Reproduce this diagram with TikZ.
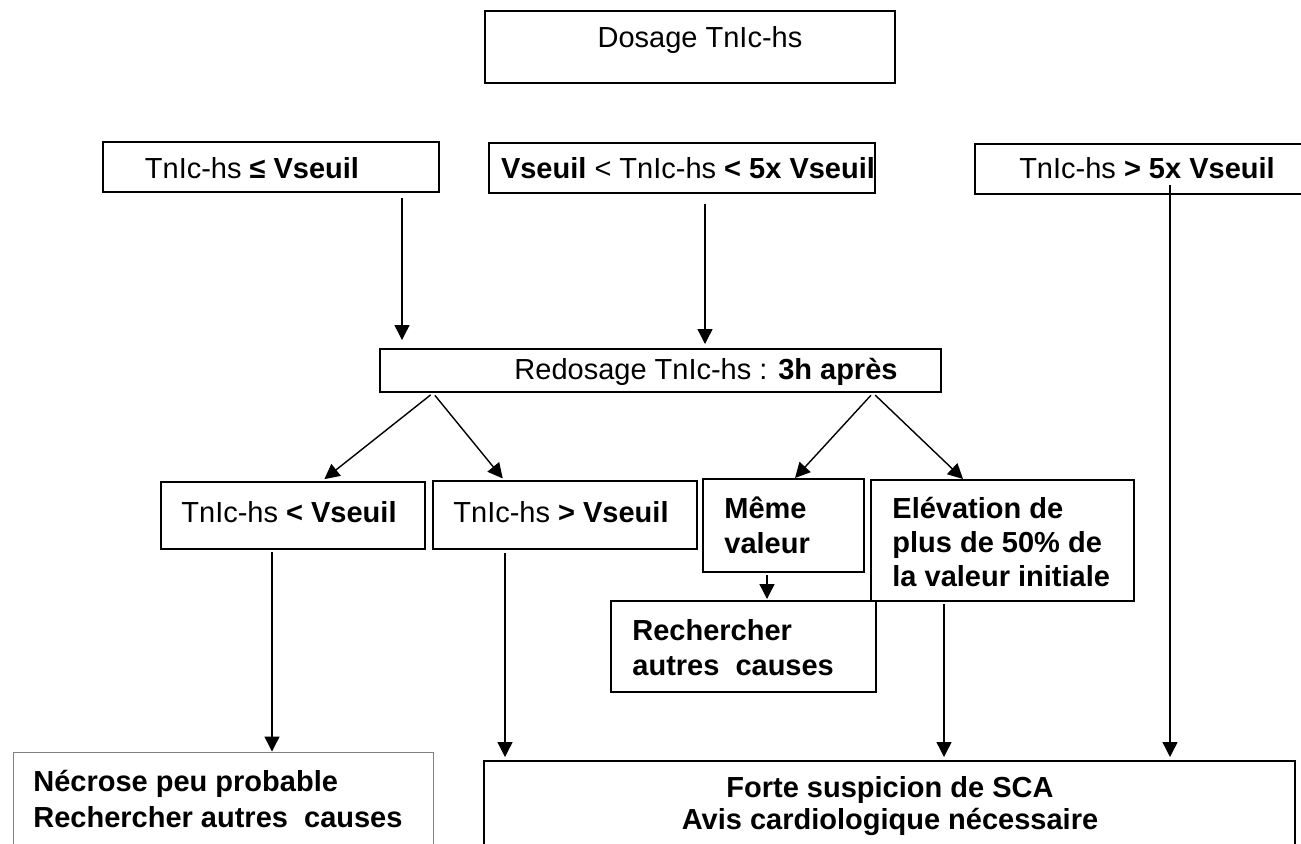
\documentclass[tikz,border=0pt]{standalone}
\usepackage{fontspec}
\setmainfont{Liberation Sans}
\usetikzlibrary{arrows.meta}
\begin{document}
\begin{tikzpicture}[x=0.5pt,y=-0.5pt,
  box/.style={draw, line width=1pt, inner sep=0pt},
  lbl/.style={inner sep=0pt, font=\fontsize{14.5pt}{17pt}\selectfont},
  arr/.style={line width=0.7pt, -{Triangle[length=7.5pt,width=7.5pt]}}]
\useasboundingbox (0,0) rectangle (1301,843);
\clip (0,0) rectangle (1301,843);
\fill[white] (0,0) rectangle (1301,843);
% boxes
\node[box, minimum width=205pt, minimum height=36pt] (dos) at (690,47) {};
\node[box, minimum width=168pt, minimum height=25pt] (A) at (271,167) {};
\node[box, minimum width=193pt, minimum height=25pt] (B) at (682,168) {};
\node[box, minimum width=177.5pt, minimum height=25pt] (C) at (1152.5,169) {};
\node[box, minimum width=280.5pt, minimum height=21.5pt] (R) at (660.5,370.5) {};
\node[box, minimum width=132pt, minimum height=33.5pt] (D) at (293,515.5) {};
\node[box, minimum width=132pt, minimum height=34pt] (E) at (565,515) {};
\node[box, minimum width=80.5pt, minimum height=46.5pt] (M) at (783.5,525.5) {};
\node[box, minimum width=131.5pt, minimum height=60.5pt] (El) at (1002.5,540.5) {};
\node[box, minimum width=132.5pt, minimum height=45.5pt] (Rc) at (743.5,646.5) {};
\node[draw=gray, line width=0.5pt, inner sep=0pt, minimum width=210pt, minimum height=74pt] (N) at (223,826) {};
\node[box, minimum width=405.5pt, minimum height=69.5pt] (S) at (889.5,830.5) {};
% texts
\node[lbl] (tdos) at (700,40) {Dosage TnIc-hs};
\node[lbl] (tA) at (252,168) {TnIc-hs \textbf{≤ Vseuil}};
\node[lbl] (tB) at (688,168) {\textbf{Vseuil} < TnIc-hs \textbf{< 5x Vseuil}};
\node[lbl] (tC) at (1147,168) {TnIc-hs \textbf{> 5x Vseuil}};
\node[lbl] (tR) at (706,372) {Redosage TnIc-hs : \textbf{3h après}};
\node[lbl] (tD) at (289,512) {TnIc-hs \textbf{< Vseuil}};
\node[lbl] (tE) at (561,512) {TnIc-hs \textbf{> Vseuil}};
\node[lbl, anchor=west, align=left, font=\fontsize{14.5pt}{17.5pt}\selectfont\bfseries] (tM) at (724,525.5) {Même\\valeur};
\node[lbl, anchor=west, align=left, font=\fontsize{14.5pt}{17pt}\selectfont\bfseries] (tEl) at (892,542) {Elévation de\\plus de 50\% de\\la valeur initiale};
\node[lbl, anchor=west, align=left, font=\fontsize{14.5pt}{17.5pt}\selectfont\bfseries] (tRc) at (632,647.5) {Rechercher\\autres\ \ causes};
\node[lbl, anchor=west, align=left, font=\fontsize{14.5pt}{18pt}\selectfont\bfseries] (tN) at (33,798.5) {Nécrose peu probable\\Rechercher autres\ \ causes};
\node[lbl, align=center, font=\fontsize{14.5pt}{16pt}\selectfont\bfseries] (tS) at (890,806) {Forte suspicion de SCA\\Avis cardiologique nécessaire};
% connector x positions
\coordinate (xa) at (402,0);
\coordinate (xb) at (705,0);
\coordinate (xc) at (1170,0);
\coordinate (rl) at (433,0);
\coordinate (rr) at (873,0);
\coordinate (xd) at (322,0);
\coordinate (xe) at (504,0);
\coordinate (xm) at (795,0);
\coordinate (xel) at (963,0);
\coordinate (xn) at (272,0);
\coordinate (xs1) at (505,0);
\coordinate (xs2) at (944,0);
\coordinate (xrc) at (767,0);
% connectors
\draw[arr, shorten <=2.5pt, shorten >=4pt] (A.south -| xa) -- (R.north -| xa);
\draw[arr, shorten <=5pt, shorten >=2pt] (B.south -| xb) -- (R.north -| xb);
\draw[arr, shorten <=-5pt, shorten >=1.5pt] (C.south -| xc) -- (S.north -| xc);
\draw[arr, shorten <=1.5pt, shorten >=1.5pt] (R.south -| rl) -- (D.north -| xd);
\draw[arr, shorten <=1.5pt, shorten >=1pt] (R.south -| rl) -- (E.north -| xe);
\draw[arr, shorten <=1.5pt] (R.south -| rr) -- (M.north -| xm);
\draw[arr, shorten <=1.5pt] (R.south -| rr) -- (El.north -| xel);
\draw[arr, shorten <=1pt] (D.south -| xn) -- (N.north -| xn);
\draw[arr, shorten <=1.5pt, shorten >=1.5pt] (E.south -| xs1) -- (S.north -| xs1);
\draw[arr, shorten <=1pt, shorten >=1.5pt] (El.south -| xs2) -- (S.north -| xs2);
\draw[arr, shorten <=1pt, shorten >=0.5pt] (M.south -| xrc) -- (Rc.north -| xrc);
\end{tikzpicture}
\end{document}
